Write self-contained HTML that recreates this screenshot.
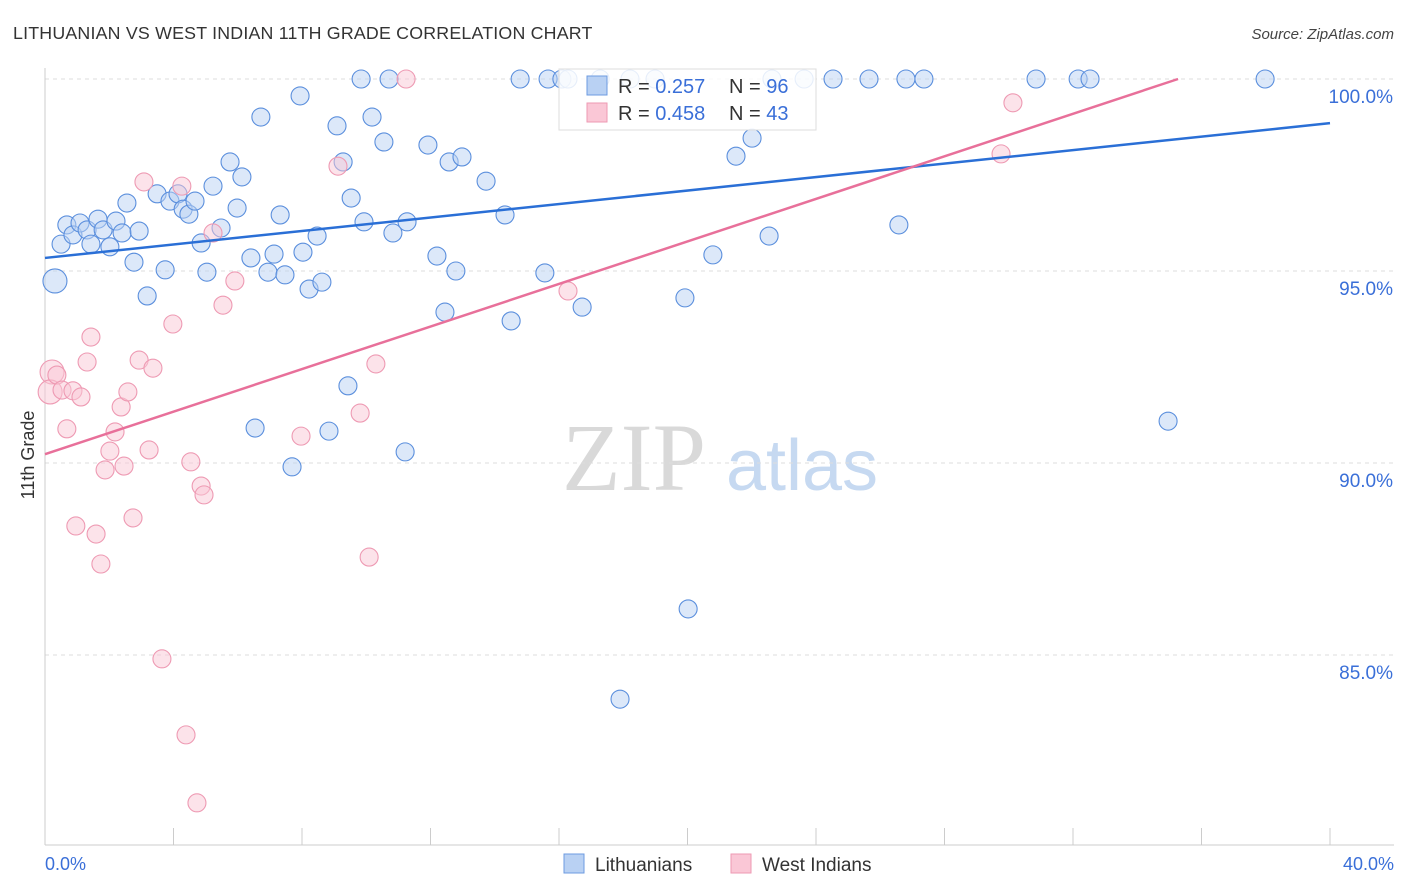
<!DOCTYPE html>
<html><head><meta charset="utf-8"><style>
body{margin:0;background:#fff;font-family:"Liberation Sans",sans-serif;}
svg{display:block}
</style></head><body>
<svg id="chart" width="1406" height="892" xmlns="http://www.w3.org/2000/svg">
<text x="13" y="39" font-size="17.8" fill="#333" letter-spacing="0.2">LITHUANIAN VS WEST INDIAN 11TH GRADE CORRELATION CHART</text>
<text x="1394" y="39" font-size="15" fill="#444" font-style="italic" text-anchor="end">Source: ZipAtlas.com</text>
<g>
<text x="634" y="490" font-size="96" font-family="Liberation Serif,serif" fill="#d9d9d9" text-anchor="middle">ZIP</text>
<text x="802" y="490" font-size="72" fill="#c6d9f1" text-anchor="middle">atlas</text>
</g>
<g id="grid"></g>
<g id="axes"></g>
<g id="marks"></g>
<g>
<rect x="559" y="69" width="257" height="61" fill="#fff" fill-opacity="0.85" stroke="#ddd"/>
<rect x="587" y="76" width="20" height="19" fill="#b9d1f3" stroke="#6d9be0"/>
<text x="618" y="93" font-size="20" fill="#333">R = <tspan fill="#3a6fd8">0.257</tspan></text>
<text x="729" y="93" font-size="20" fill="#333">N = <tspan fill="#3a6fd8">96</tspan></text>
<rect x="587" y="103" width="20" height="19" fill="#fac7d6" stroke="#ee9ab3"/>
<text x="618" y="120" font-size="20" fill="#333">R = <tspan fill="#3a6fd8">0.458</tspan></text>
<text x="729" y="120" font-size="20" fill="#333">N = <tspan fill="#3a6fd8">43</tspan></text>
</g>
<g>
<rect x="564" y="854" width="20" height="19" fill="#b9d1f3" stroke="#6d9be0"/>
<text x="595" y="871" font-size="19" fill="#333">Lithuanians</text>
<rect x="731" y="854" width="20" height="19" fill="#fac7d6" stroke="#ee9ab3"/>
<text x="762" y="871" font-size="19" fill="#333">West Indians</text>
</g>
<text transform="translate(34,455) rotate(-90)" font-size="18" fill="#333" text-anchor="middle">11th Grade</text>
</svg>
<script>
const yTicks=[100,95,90,85];
const yTickLabels=["100.0%","95.0%","90.0%","85.0%"];
const xTickLabels=["0.0%","40.0%"];
const blueX=[0.31,0.50,0.68,0.87,1.09,1.31,1.43,1.65,1.81,2.02,2.21,2.40,2.55,2.77,2.93,3.18,3.49,3.74,3.89,4.14,4.30,4.48,4.67,4.86,5.04,5.23,5.48,5.76,5.98,6.13,6.41,6.54,6.72,6.94,7.13,7.32,7.47,7.69,7.94,8.03,8.22,8.47,8.62,8.84,9.09,9.28,9.43,9.53,9.84,9.93,10.18,10.55,10.71,10.83,11.21,11.27,11.92,12.20,12.45,12.58,12.79,12.98,13.73,14.32,14.51,14.79,15.56,15.66,16.09,16.28,16.72,17.28,17.90,18.21,18.99,19.92,20.02,20.79,21.51,22.01,22.54,22.63,23.63,24.53,25.65,26.58,26.80,27.36,30.85,32.16,32.53,34.96,37.98];
const blueY=[94.74,95.70,96.20,95.94,96.25,96.07,95.70,96.35,96.07,95.63,96.30,95.99,96.77,95.23,96.04,94.35,97.01,95.03,96.82,97.01,96.61,96.48,96.82,95.73,94.97,97.21,96.12,97.84,96.64,97.45,95.34,90.91,99.01,94.97,95.44,96.46,94.90,89.90,99.56,95.49,94.53,95.91,94.71,90.83,98.78,97.84,92.01,96.90,100,96.28,99.01,98.36,100,95.99,90.29,96.28,98.28,95.39,93.93,97.84,95.00,97.97,97.34,96.46,93.70,100,94.95,100,100,100,94.06,100,83.85,100,100,94.30,86.20,95.42,97.99,98.46,95.91,100,100,100,100,96.20,100,100,100,100,100,91.09,100];
const pinkX=[0.22,0.16,0.37,0.53,0.68,0.87,0.96,1.12,1.31,1.43,1.59,1.74,1.87,2.02,2.18,2.37,2.46,2.58,2.74,2.93,3.08,3.24,3.36,3.64,3.98,4.26,4.39,4.54,4.73,4.86,4.95,5.23,5.54,5.91,7.97,9.12,9.81,10.09,10.30,11.24,16.28,29.76,30.13];
const pinkY=[92.37,91.85,92.29,91.90,90.89,91.88,88.36,91.72,92.63,93.28,88.15,87.37,89.82,90.31,90.81,91.46,89.92,91.85,88.57,92.68,97.32,90.34,92.47,84.90,93.62,97.21,82.92,90.03,81.15,89.40,89.17,95.99,94.11,94.74,90.70,97.73,91.30,87.55,92.58,100,94.48,98.05,99.38];
const blueTrend=[95.34,98.85];
const pinkTrend=[90.23,100.0,35.27];
const NS="http://www.w3.org/2000/svg";
const X0=45,X1=1330,Y100=79,PXPCT=38.4;
function sx(v){return X0+(v/40)*(X1-X0);}
function sy(v){return Y100+(100-v)*PXPCT;}
function mk(tag,attrs,parent){const e=document.createElementNS(NS,tag);for(const k in attrs)e.setAttribute(k,attrs[k]);parent.appendChild(e);return e;}
const grid=document.getElementById('grid'),axes=document.getElementById('axes'),marks=document.getElementById('marks');
yTicks.forEach((t,i)=>{
 const l=mk('line',{x1:X0,x2:1394,y1:sy(t),y2:sy(t),stroke:'#ddd','stroke-dasharray':'4,4'},grid);
 
 
 const tx=mk('text',{x:1393,y:sy(t)+24,'font-size':19,fill:'#3a6fd8','text-anchor':'end'},axes);
 tx.textContent=yTickLabels[i];
 
 
});
const ax=mk('line',{x1:X0,x2:X0,y1:68,y2:845,stroke:'#ccc'},axes);


const bx=mk('line',{x1:X0,x2:1394,y1:845,y2:845,stroke:'#ccc'},axes);


for(let i=0;i<=10;i++){const t=mk('line',{x1:sx(i*4),x2:sx(i*4),y1:828,y2:845,stroke:'#ccc'},axes);
 
 }
[[0,'start'],[40,'end']].forEach((p,i)=>{const t=mk('text',{x:i?1394:45,y:870,'font-size':18,fill:'#3a6fd8','text-anchor':p[1]},axes);t.textContent=xTickLabels[i];
 
 });
function pts(xs,ys,fill,stroke,name){xs.forEach((x,i)=>{const big=(i<2&&name==='pink-point')||(i===0&&name==='blue-point');
 const c=mk('circle',{cx:sx(x),cy:sy(ys[i]),r:big?12:9,fill:fill,'fill-opacity':0.5,stroke:stroke,'stroke-width':1.1},marks);
 
 });}
pts(blueX,blueY,'#b9d1f3','#5b8fdd','blue-point');
pts(pinkX,pinkY,'#fac7d6','#ee9ab3','pink-point');
const bl=mk('line',{x1:sx(0),y1:sy(blueTrend[0]),x2:sx(40),y2:sy(blueTrend[1]),stroke:'#2a6fd6','stroke-width':2.5},marks);


const pl=mk('line',{x1:sx(0),y1:sy(pinkTrend[0]),x2:sx(pinkTrend[2]),y2:sy(pinkTrend[1]),stroke:'#e8709a','stroke-width':2.5},marks);


</script>
</body></html>
